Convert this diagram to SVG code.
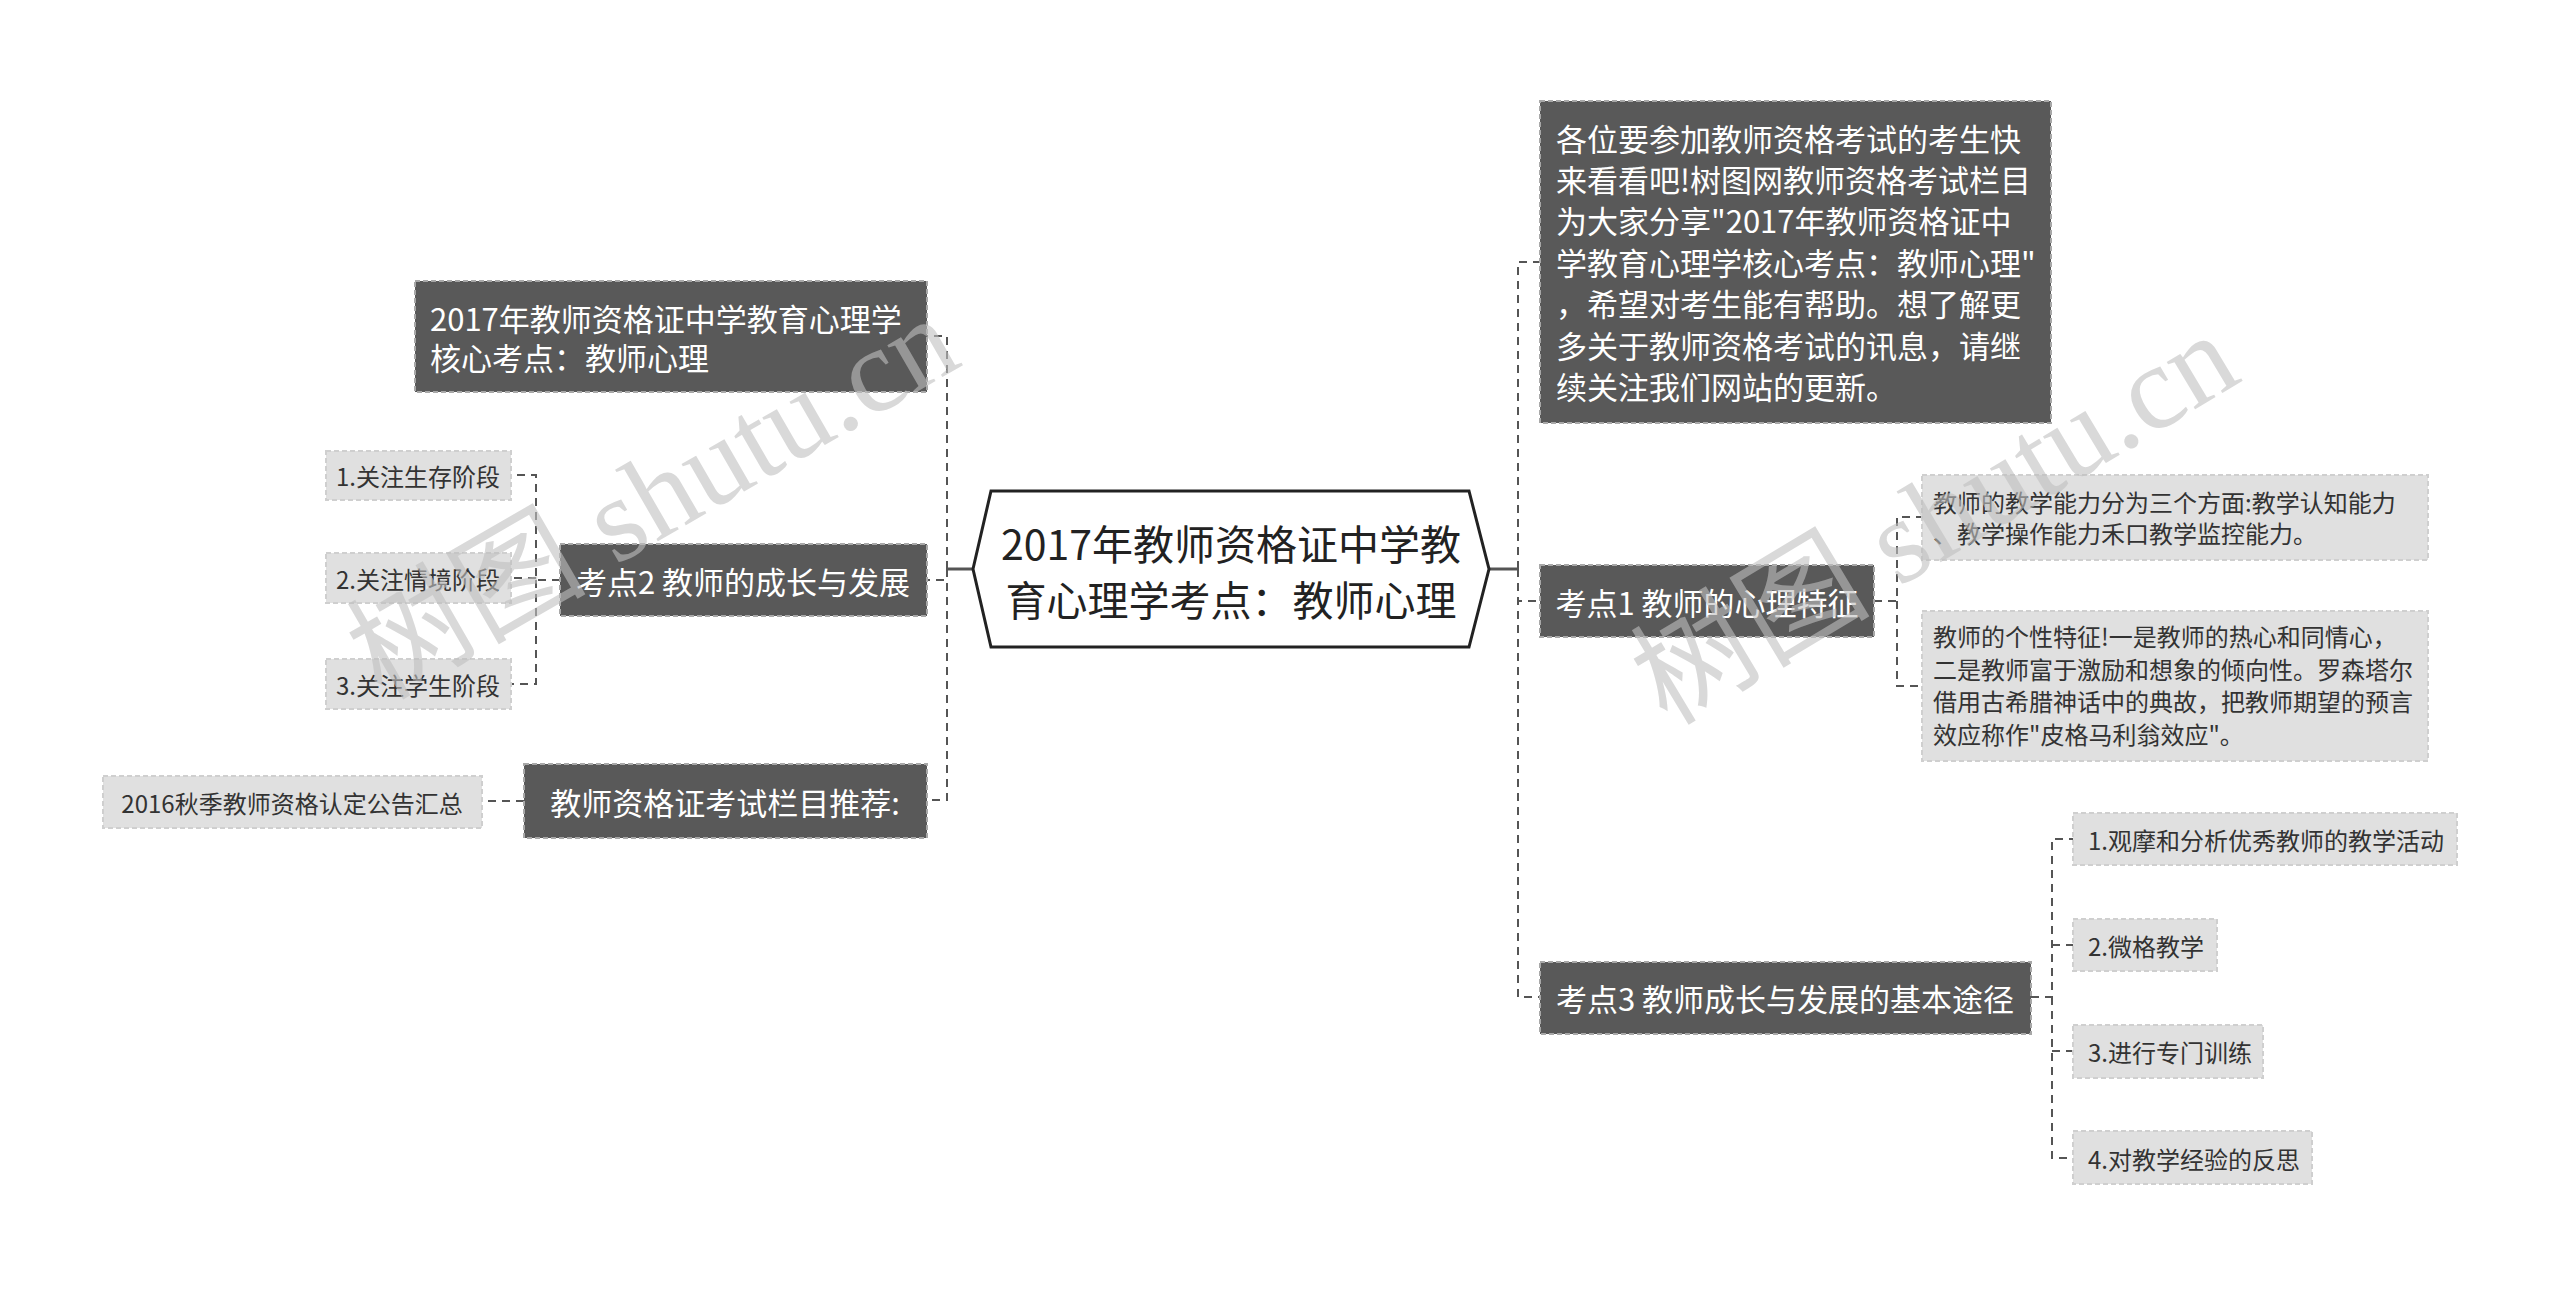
<svg xmlns="http://www.w3.org/2000/svg" width="2560" height="1290" viewBox="0 0 2560 1290">
<style>
text{font-family:"Noto Sans CJK SC","Microsoft YaHei",sans-serif;dominant-baseline:central}
.dark rect{fill:#595959;stroke:#a8a8a8;stroke-width:2;stroke-dasharray:5 3}
.dark text{fill:#ffffff;font-size:31px}
.leaf rect{fill:#e0e0e0;stroke:#cfcfcf;stroke-width:2;stroke-dasharray:5 3}
.leaf text{fill:#333333;font-size:24px}
.conn path{fill:none;stroke:#555555;stroke-width:2;stroke-dasharray:8 6}
.conn path.solid{stroke-dasharray:none;stroke-width:3}
.wm{font-family:"Liberation Serif","Noto Sans CJK SC",serif;font-size:120px;fill:#c0c0c0;opacity:0.6;dominant-baseline:auto}
</style>
<rect width="2560" height="1290" fill="#ffffff"/>
<g id="connectors" class="conn">
<path class="solid" d="M973 569 H947"/>
<path d="M947 569 V336 H927"/>
<path d="M947 569 V580 H927"/>
<path d="M947 569 V800 H927"/>
<path d="M560 580 H536 V475 H511"/>
<path d="M536 580 V684 H511"/>
<path d="M536 578 H511"/>
<path d="M524 801 H482"/>
<path class="solid" d="M1489 569 H1518"/>
<path d="M1518 569 V262 H1540"/>
<path d="M1518 569 V601 H1540"/>
<path d="M1518 569 V997 H1540"/>
<path d="M1874 601 H1897 V517 H1922"/>
<path d="M1897 601 V686 H1922"/>
<path d="M2031 997 H2052 V839 H2073"/>
<path d="M2052 997 V1158 H2073"/>
<path d="M2052 945 H2073"/>
<path d="M2052 1051 H2073"/>
</g>
<g id="root">
<polygon points="973,569 991,491 1469,491 1489,569 1469,647 991,647" fill="#ffffff" stroke="#222222" stroke-width="3"/>
<text x="1231" y="542" text-anchor="middle" font-size="41" fill="#222222">2017年教师资格证中学教</text>
<text x="1231" y="598" text-anchor="middle" font-size="41" fill="#222222">育心理学考点：教师心理</text>
</g>
<g id="nodeA" class="dark">
<rect x="415" y="281" width="512" height="111"/>
<text x="430" y="317">2017年教师资格证中学教育心理学</text>
<text x="430" y="356">核心考点：教师心理</text>
</g>
<g id="kd2" class="dark">
<rect x="560" y="544" width="367" height="72"/>
<text x="743" y="580" text-anchor="middle">考点2 教师的成长与发展</text>
</g>
<g id="tuijian" class="dark">
<rect x="524" y="764" width="403" height="74"/>
<text x="725" y="801" text-anchor="middle">教师资格证考试栏目推荐:</text>
</g>
<g id="leaf2016" class="leaf">
<rect x="103" y="776" width="379" height="52"/>
<text x="292" y="802" text-anchor="middle">2016秋季教师资格认定公告汇总</text>
</g>
<g id="l1" class="leaf">
<rect x="326" y="451" width="185" height="49"/>
<text x="418" y="475" text-anchor="middle">1.关注生存阶段</text>
</g>
<g id="l2" class="leaf">
<rect x="326" y="553" width="185" height="50"/>
<text x="418" y="578" text-anchor="middle">2.关注情境阶段</text>
</g>
<g id="l3" class="leaf">
<rect x="326" y="659" width="185" height="50"/>
<text x="418" y="684" text-anchor="middle">3.关注学生阶段</text>
</g>
<g id="intro" class="dark">
<rect x="1540" y="101" width="511" height="322"/>
<text x="1556" y="137">各位要参加教师资格考试的考生快</text>
<text x="1556" y="178">来看看吧!树图网教师资格考试栏目</text>
<text x="1556" y="219">为大家分享"2017年教师资格证中</text>
<text x="1556" y="261">学教育心理学核心考点：教师心理"</text>
<text x="1556" y="302">，希望对考生能有帮助。想了解更</text>
<text x="1556" y="344">多关于教师资格考试的讯息，请继</text>
<text x="1556" y="385">续关注我们网站的更新。</text>
</g>
<g id="kd1" class="dark">
<rect x="1540" y="565" width="334" height="72"/>
<text x="1707" y="601" text-anchor="middle">考点1 教师的心理特征</text>
</g>
<g id="r1" class="leaf">
<rect x="1922" y="475" width="506" height="85"/>
<text x="1933" y="501">教师的教学能力分为三个方面:教学认知能力</text>
<text x="1933" y="532">、教学操作能力禾口教学监控能力。</text>
</g>
<g id="r2" class="leaf">
<rect x="1922" y="611" width="506" height="150"/>
<text x="1933" y="635">教师的个性特征!一是教师的热心和同情心，</text>
<text x="1933" y="668">二是教师富于激励和想象的倾向性。罗森塔尔</text>
<text x="1933" y="700">借用古希腊神话中的典故，把教师期望的预言</text>
<text x="1933" y="733">效应称作"皮格马利翁效应"。</text>
</g>
<g id="kd3" class="dark">
<rect x="1540" y="962" width="491" height="72"/>
<text x="1785" y="997" text-anchor="middle">考点3 教师成长与发展的基本途径</text>
</g>
<g id="p1" class="leaf">
<rect x="2073" y="813" width="384" height="52"/>
<text x="2088" y="839">1.观摩和分析优秀教师的教学活动</text>
</g>
<g id="p2" class="leaf">
<rect x="2073" y="919" width="144" height="52"/>
<text x="2088" y="945">2.微格教学</text>
</g>
<g id="p3" class="leaf">
<rect x="2073" y="1025" width="190" height="53"/>
<text x="2088" y="1051">3.进行专门训练</text>
</g>
<g id="p4" class="leaf">
<rect x="2073" y="1131" width="239" height="53"/>
<text x="2088" y="1158">4.对教学经验的反思</text>
</g>
<g id="watermarks">
<text class="wm" x="653" y="538" text-anchor="middle" transform="rotate(-30 653 498)">树图 shutu.cn</text>
<text class="wm" x="1935" y="559" text-anchor="middle" transform="rotate(-31 1935 519)">树图 shutu.cn</text>
</g>
</svg>
